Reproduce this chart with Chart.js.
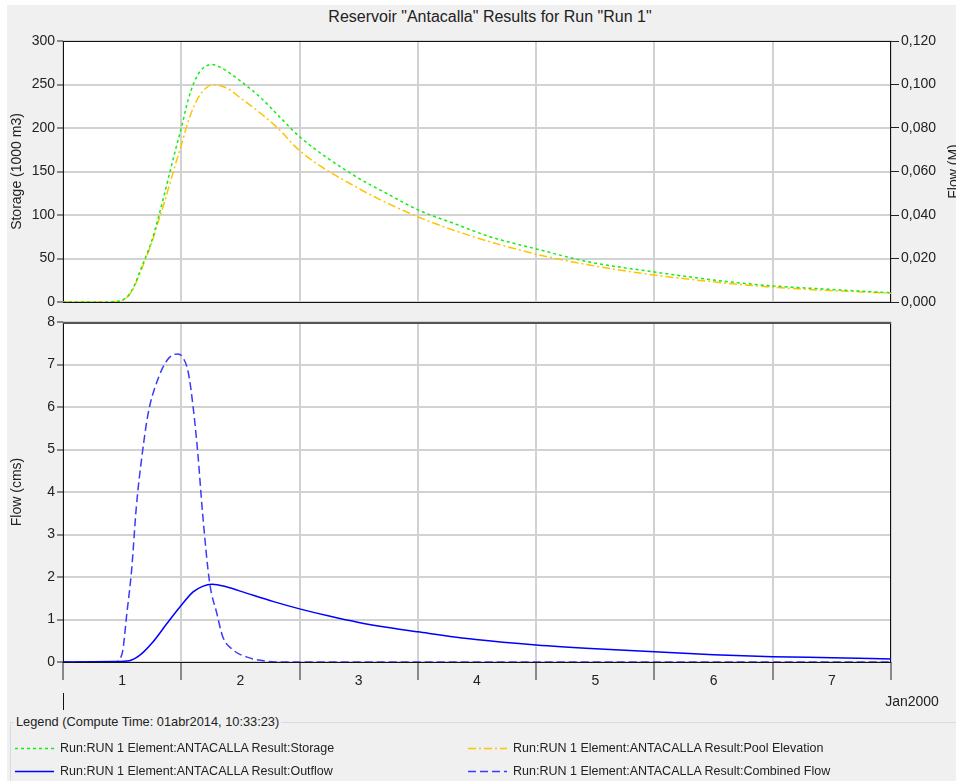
<!DOCTYPE html>
<html>
<head>
<meta charset="utf-8">
<script src="https://cdn.jsdelivr.net/npm/chart.js@4.4.1/dist/chart.umd.min.js"></script>
<style>
  html, body { margin: 0; padding: 0; background: #fff; width: 956px; height: 781px; overflow: hidden;
    font-family: "Liberation Sans", Arial, sans-serif; }
  #panel { position: absolute; left: 7px; top: 5px; right: 0; bottom: 0; background: #f0f0f0; }
  canvas { position: absolute; left: 0; }
  #title { position: absolute; left: 240px; width: 500px; top: 8px; text-align: center; font-size: 16px; color: #222; }
  #legendBox { position: absolute; left: 10px; top: 722px; right: 0; bottom: 0;
    border-top: 1px solid #d3dce4; border-left: 1px solid #d3dce4; }
  #legendTitle { position: absolute; left: 14px; top: 714px; font-size: 12.8px; padding: 0 2px; background: #f0f0f0; color: #222; }
  .item { position: absolute; height: 14px; font-size: 12.5px; line-height: 14px; color: #222; }
  .item svg { position: absolute; left: 0; top: 0; }
  .item span { position: absolute; top: 0; white-space: nowrap; }
</style>
</head>
<body>
<div id="panel"></div>
<div id="title">Reservoir "Antacalla" Results for Run "Run 1"</div>
<canvas id="top" width="956" height="314" style="top:0"></canvas>
<canvas id="bottom" width="956" height="405" style="top:310px"></canvas>
<div id="legendBox"></div>
<div id="legendTitle">Legend (Compute Time: 01abr2014, 10:33:23)</div>
<div id="legend"></div>

<script>
// x values are days since 01Jan2000 00:00
const dayLabels = ['1', '2', '3', '4', '5', '6', '7'];
const dayGrid = [0, 1, 2, 3, 4, 5, 6, 7];
const dayMid = [0.5, 1.5, 2.5, 3.5, 4.5, 5.5, 6.5];

const storageTicks = [0, 50, 100, 150, 200, 250, 300];
const elevTicks = [0, 0.02, 0.04, 0.06, 0.08, 0.1, 0.12];
const flowTicks = [0, 1, 2, 3, 4, 5, 6, 7, 8];

// Storage (1000 m3)
const storageDays = [0, 0.3, 0.44, 0.5, 0.55, 0.6, 0.65, 0.7, 0.75, 0.8, 0.854, 0.905, 0.955, 1.006,
  1.057, 1.107, 1.158, 1.209, 1.26, 1.327, 1.5, 1.67, 1.83, 2.0, 2.43, 2.76, 3.0, 3.33, 3.61, 4.0,
  4.45, 5.0, 5.58, 6.0, 6.42, 7.0];
const storageValues = [0, 0, 0.5, 2, 7, 18, 35, 52, 70, 94, 122, 150, 177, 203,
  232, 252, 265, 271, 273, 270, 254, 235, 213, 190, 148, 123, 106, 89, 75, 61,
  46, 34.5, 24, 18.5, 15, 10.5];

// Pool Elevation (M)
const elevDays = [0, 0.3, 0.44, 0.5, 0.55, 0.6, 0.65, 0.7, 0.75, 0.8, 0.854, 0.905, 0.955, 1.006,
  1.057, 1.107, 1.158, 1.209, 1.268, 1.344, 1.41, 1.5, 1.67, 1.83, 2.0, 2.48, 3.0, 3.47, 4.0, 4.45,
  5.0, 6.0, 7.0];
const elevValues = [0, 0, 0.0002, 0.0008, 0.0026, 0.0068, 0.0132, 0.02, 0.0272, 0.036, 0.0452, 0.0548, 0.064, 0.0732,
  0.0828, 0.09, 0.0952, 0.0984, 0.1, 0.0992, 0.0976, 0.0938, 0.0868, 0.0792, 0.0696, 0.0528, 0.0392, 0.03, 0.022, 0.017,
  0.0124, 0.0068, 0.004];

// Outflow (cms)
const outflowDays = [0, 0.44, 0.56, 0.65, 0.76, 0.88, 0.99, 1.1, 1.18, 1.26, 1.38, 1.55, 1.78, 2.0, 2.25,
  2.5, 2.75, 3.0, 3.49, 4.0, 4.5, 5.0, 5.5, 6.0, 6.5, 7.0];
const outflowValues = [0, 0.01, 0.03, 0.16, 0.47, 0.91, 1.3, 1.65, 1.78, 1.83, 1.77, 1.62, 1.42, 1.25, 1.08,
  0.93, 0.81, 0.71, 0.53, 0.4, 0.31, 0.24, 0.17, 0.125, 0.1, 0.07];

// Combined Flow (cms)
const combinedDays = [0, 0.44, 0.5, 0.54, 0.58, 0.62, 0.67, 0.72, 0.79, 0.88, 0.97, 1.01, 1.06, 1.1, 1.14,
  1.18, 1.24, 1.3, 1.35, 1.44, 1.55, 1.72, 1.9, 7.0];
const combinedValues = [0, 0, 0.2, 1.15, 2.16, 3.65, 4.9, 5.85, 6.56, 7.1, 7.25, 7.18, 6.8, 6.0, 4.9,
  3.5, 1.86, 1.15, 0.6, 0.28, 0.12, 0.02, 0, 0];

const seriesNames = [
  'Run:RUN 1 Element:ANTACALLA Result:Storage',
  'Run:RUN 1 Element:ANTACALLA Result:Pool Elevation',
  'Run:RUN 1 Element:ANTACALLA Result:Outflow',
  'Run:RUN 1 Element:ANTACALLA Result:Combined Flow',
];

const FAMILY = '"Liberation Sans", Arial, sans-serif';
const FONT = { family: FAMILY, size: 14 };
const TEXT = '#222';
const GRID = '#d2d2d2';
const CLEAR = 'rgba(0,0,0,0)';

const STYLES = [
  { color: '#11ee11', dash: [3, 3] },
  { color: '#ffc400', dash: [8, 3, 2, 3] },
  { color: '#0000ff', dash: [] },
  { color: '#3a3aff', dash: [8, 4] },
];

function pts(xs, ys) {
  return xs.map((x, i) => ({ x, y: ys[i] }));
}

function line(i, xs, ys, axis) {
  return {
    label: seriesNames[i],
    data: pts(xs, ys),
    yAxisID: axis,
    borderColor: STYLES[i].color,
    borderDash: STYLES[i].dash,
    borderWidth: 1.5,
    pointRadius: 0,
    cubicInterpolationMode: 'monotone',
    fill: false,
  };
}

const framePlugin = {
  id: 'frame',
  beforeDraw(chart) {
    const a = chart.chartArea;
    const ctx = chart.ctx;
    ctx.save();
    ctx.fillStyle = '#fff';
    ctx.fillRect(a.left, a.top, a.right - a.left, a.bottom - a.top);
    ctx.restore();
  },
  beforeDatasetsDraw(chart, args, opts) {
    const a = chart.chartArea;
    const ctx = chart.ctx;
    ctx.save();
    ctx.strokeStyle = '#111';
    ctx.lineWidth = 1;
    ctx.strokeRect(a.left + 0.5, a.top + 0.5, a.right - a.left - 1, a.bottom - a.top);
    if (opts.topWidth) {
      ctx.strokeStyle = opts.topColor;
      ctx.lineWidth = opts.topWidth;
      ctx.beginPath();
      ctx.moveTo(a.left, a.top + opts.topWidth / 2);
      ctx.lineTo(a.right, a.top + opts.topWidth / 2);
      ctx.stroke();
    }
    ctx.restore();
  },
};

const extrasPlugin = {
  id: 'extras',
  afterDraw(chart, args, opts) {
    const a = chart.chartArea;
    const ctx = chart.ctx;
    ctx.save();
    ctx.fillStyle = TEXT;
    ctx.font = '14px ' + FAMILY;
    if (opts.sideTitle) {
      ctx.translate(954, (a.top + a.bottom) / 2);
      ctx.rotate(-Math.PI / 2);
      ctx.textAlign = 'center';
      ctx.textBaseline = 'middle';
      ctx.fillText(opts.sideTitle, 0, 0);
    }
    if (opts.dateLabel) {
      ctx.strokeStyle = '#111';
      ctx.lineWidth = 1;
      ctx.beginPath();
      ctx.moveTo(a.left + 0.5, a.bottom + 31);
      ctx.lineTo(a.left + 0.5, a.bottom + 48);
      ctx.stroke();
      ctx.textAlign = 'center';
      ctx.textBaseline = 'middle';
      ctx.fillText(opts.dateLabel, 912, a.bottom + 40);
    }
    ctx.restore();
  },
};

function yAxis(ticks, title, width) {
  return {
    position: 'left',
    min: ticks[0],
    max: ticks[ticks.length - 1],
    afterBuildTicks: (ax) => { ax.ticks = ticks.map(v => ({ value: v })); },
    afterFit: (ax) => { ax.width = width; },
    border: { display: false },
    grid: { color: GRID, lineWidth: 2, tickColor: TEXT, tickLength: 6, tickWidth: 1 },
    ticks: { color: TEXT, font: FONT, padding: 2 },
    title: { display: true, text: title, color: TEXT, font: FONT, padding: { top: 9, bottom: 0 } },
  };
}

new Chart(document.getElementById('top'), {
  type: 'line',
  data: {
    datasets: [
      line(0, storageDays, storageValues, 'y'),
      line(1, elevDays, elevValues, 'y1'),
    ],
  },
  plugins: [framePlugin, extrasPlugin],
  options: {
    responsive: false,
    animation: false,
    layout: { padding: { top: 41, left: 0, right: 0, bottom: 0 } },
    scales: {
      x: {
        type: 'linear',
        min: 0,
        max: 7,
        afterBuildTicks: (ax) => { ax.ticks = dayGrid.map(v => ({ value: v })); },
        afterFit: (ax) => { ax.height = 12; },
        border: { display: false },
        grid: { color: GRID, lineWidth: 2, drawTicks: false },
        ticks: { display: false },
      },
      y: yAxis(storageTicks, 'Storage (1000 m3)', 63),
      y1: {
        position: 'right',
        min: 0,
        max: 0.12,
        afterBuildTicks: (ax) => { ax.ticks = elevTicks.map(v => ({ value: v })); },
        afterFit: (ax) => { ax.width = 65; },
        border: { display: false },
        grid: { drawOnChartArea: false, tickColor: TEXT, tickLength: 8, tickWidth: 1 },
        ticks: { color: TEXT, font: FONT, padding: 2, callback: (v) => v.toFixed(3).replace('.', ',') },
      },
    },
    plugins: {
      legend: { display: false },
      tooltip: { enabled: false },
      frame: {},
      extras: { sideTitle: 'Flow (M)' },
    },
  },
});

new Chart(document.getElementById('bottom'), {
  type: 'line',
  data: {
    datasets: [
      line(2, outflowDays, outflowValues, 'y'),
      line(3, combinedDays, combinedValues, 'y'),
    ],
  },
  plugins: [framePlugin, extrasPlugin],
  options: {
    responsive: false,
    animation: false,
    layout: { padding: { top: 12, left: 0, right: 65, bottom: 0 } },
    scales: {
      x: {
        type: 'linear',
        min: 0,
        max: 7,
        afterBuildTicks: (ax) => {
          ax.ticks = dayGrid.map(v => ({ value: v })).concat(dayMid.map(v => ({ value: v })))
            .sort((p, q) => p.value - q.value);
        },
        afterFit: (ax) => { ax.height = 53; },
        border: { display: false },
        grid: {
          color: (c) => Number.isInteger(c.tick.value) ? GRID : CLEAR,
          tickColor: (c) => Number.isInteger(c.tick.value) ? TEXT : CLEAR,
          lineWidth: 2,
          tickWidth: 1,
          tickLength: 18,
        },
        ticks: {
          autoSkip: false,
          maxRotation: 0,
          padding: -7,
          color: TEXT,
          font: FONT,
          callback: (v) => Number.isInteger(v) ? '' : dayLabels[Math.floor(v)],
        },
      },
      y: yAxis(flowTicks, 'Flow (cms)', 63),
    },
    plugins: {
      legend: { display: false },
      tooltip: { enabled: false },
      frame: { topColor: '#555', topWidth: 2 },
      extras: { dateLabel: 'Jan2000' },
    },
  },
});

// legend block below the plots
const legendSlots = [
  { left: 15, top: 741 },
  { left: 468, top: 741 },
  { left: 15, top: 764 },
  { left: 468, top: 764 },
];
const legendEl = document.getElementById('legend');
seriesNames.forEach((name, i) => {
  const s = STYLES[i];
  const div = document.createElement('div');
  div.className = 'item';
  div.style.left = legendSlots[i].left + 'px';
  div.style.top = legendSlots[i].top + 'px';
  div.innerHTML =
    '<svg width="40" height="14"><line x1="0" y1="7.5" x2="39" y2="7.5" stroke="' + s.color +
    '" stroke-width="1.5" stroke-dasharray="' + (s.dash.length ? s.dash.join(' ') : 'none') + '"/></svg>' +
    '<span style="left:45px"></span>';
  div.querySelector('span').textContent = name;
  legendEl.appendChild(div);
});
</script>
</body>
</html>
